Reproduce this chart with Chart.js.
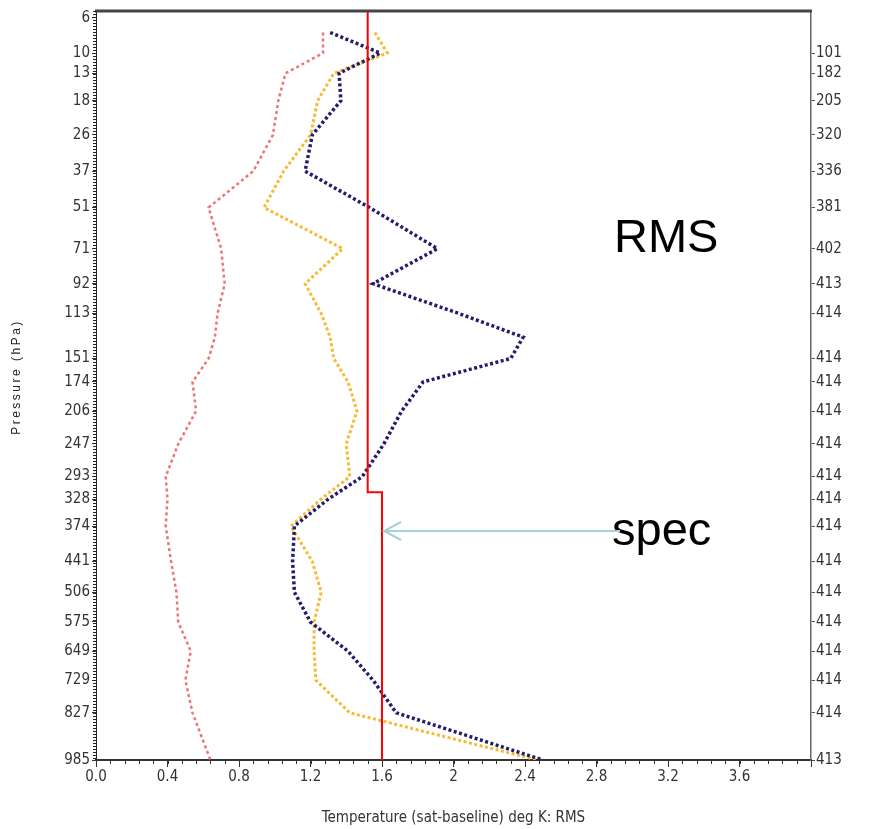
<!DOCTYPE html>
<html>
<head>
<meta charset="utf-8">
<script src="https://cdn.jsdelivr.net/npm/chart.js@4.4.0/dist/chart.umd.min.js"></script>
<style>
  html, body { margin: 0; padding: 0; background: #fff; }
  #wrap { width: 877px; height: 829px; }
</style>
</head>
<body>
<div id="wrap"><canvas id="myChart"></canvas></div>
<script>
// pressure axis is drawn in p^kappa space
var KAPPA = 0.286;
function kap(p) { return Math.pow(p, KAPPA); }

var pressureTicks = [6, 10, 13, 18, 26, 37, 51, 71, 92, 113, 151, 174, 206, 247, 293, 328, 374, 441, 506, 575, 649, 729, 827, 985];
var obsCounts = ['', 101, 182, 205, 320, 336, 381, 402, 413, 414, 414, 414, 414, 414, 414, 414, 414, 414, 414, 414, 414, 414, 414, 413];

var xTickValues = [0, 0.4, 0.8, 1.2, 1.6, 2.0, 2.4, 2.8, 3.2, 3.6, 4.0];
var xTickLabels = ['0.0', '0.4', '0.8', '1.2', '1.6', '2', '2.4', '2.8', '3.2', '3.6', ''];

var levels = [7.5, 10, 13, 18, 26, 37, 51, 71, 92, 113, 132, 151, 174, 206, 247, 293, 328, 374, 441, 506, 575, 649, 729, 827, 985];
var rmsNavy   = [1.31, 1.59, 1.36, 1.37, 1.21, 1.17, 1.53, 1.91, 1.55, 2.03, 2.39, 2.32, 1.83, 1.71, 1.61, 1.49, 1.30, 1.11, 1.10, 1.11, 1.20, 1.41, 1.55, 1.68, 2.50];
var rmsGold   = [1.56, 1.63, 1.33, 1.24, 1.20, 1.05, 0.94, 1.38, 1.17, 1.26, 1.31, 1.33, 1.41, 1.46, 1.40, 1.42, 1.26, 1.09, 1.21, 1.26, 1.22, 1.22, 1.23, 1.42, 2.47];
var rmsSalmon = [1.27, 1.27, 1.06, 1.02, 0.99, 0.88, 0.63, 0.70, 0.72, 0.68, 0.665, 0.63, 0.54, 0.56, 0.46, 0.39, 0.40, 0.39, 0.42, 0.45, 0.46, 0.53, 0.50, 0.54, 0.64];

var specLevels = [5.4, 317, 317, 985];
var specValues = [1.52, 1.52, 1.6, 1.6];

var TOP_P = 5.4, BOTTOM_P = 985;

function toPoints(vals, levs) {
  return vals.map(function (v, i) { return { x: v, y: kap(levs[i]) }; });
}

var narrow = "'Liberation Sans Narrow', 'Arial Narrow', 'DejaVu Sans Condensed', sans-serif";

// extras: top border, dotted left axis, minor x ticks, labels and the arrow
var decor = {
  id: 'decor',
  afterDraw: function (chart) {
    var ctx = chart.ctx, a = chart.chartArea;
    var xs = chart.scales.x;
    ctx.save();

    ctx.strokeStyle = '#444';
    ctx.lineWidth = 3;
    ctx.beginPath();
    ctx.moveTo(a.left - 1, a.top);
    ctx.lineTo(a.right + 1, a.top);
    ctx.stroke();

    ctx.strokeStyle = '#222';
    ctx.lineWidth = 3;
    ctx.setLineDash([1, 2]);
    ctx.beginPath();
    ctx.moveTo(a.left - 1.5, a.top);
    ctx.lineTo(a.left - 1.5, a.bottom);
    ctx.stroke();
    ctx.setLineDash([]);

    ctx.lineWidth = 1;
    ctx.strokeStyle = '#333';
    for (var v = 0; v <= 4.0001; v += 0.08) {
      var px = Math.round(xs.getPixelForValue(v)) + 0.5;
      ctx.beginPath();
      ctx.moveTo(px, a.bottom);
      ctx.lineTo(px, a.bottom + 4);
      ctx.stroke();
    }

    ctx.fillStyle = '#000';
    ctx.font = "47px 'Liberation Sans', Arial, sans-serif";
    ctx.textAlign = 'left';
    ctx.textBaseline = 'alphabetic';
    ctx.fillText('RMS', 614, 252);
    ctx.fillText('spec', 612, 545);

    // arrow pointing at the spec line
    var tipX = xs.getPixelForValue(1.6) + 2;
    var tipY = 531;
    ctx.strokeStyle = '#a6d2d6';
    ctx.lineWidth = 2;
    ctx.beginPath();
    ctx.moveTo(620, tipY);
    ctx.lineTo(tipX, tipY);
    ctx.moveTo(tipX + 17, tipY - 9);
    ctx.lineTo(tipX, tipY);
    ctx.lineTo(tipX + 17, tipY + 9);
    ctx.stroke();

    ctx.fillStyle = '#333';
    ctx.font = "15px " + narrow;
    ctx.textAlign = 'center';
    ctx.textBaseline = 'middle';
    ctx.fillText('Temperature (sat-baseline) deg K: RMS', (a.left + a.right) / 2, 818);

    ctx.translate(17, 377);
    ctx.rotate(-Math.PI / 2);
    ctx.letterSpacing = '2.5px';
    ctx.fillStyle = '#222';
    ctx.font = "12px 'Liberation Sans', Arial, sans-serif";
    ctx.fillText('Pressure (hPa)', 0, 0);
    ctx.restore();
  }
};

var tickFont = { family: narrow, size: 15 };

var ctx = document.getElementById('myChart').getContext('2d');

var myChart = new Chart(ctx, {
  type: 'line',
  data: {
    datasets: [{
      label: 'spec',
      data: toPoints(specValues, specLevels),
      borderColor: '#ff0000',
      borderWidth: 2
    },
    {
      label: 'RMS navy',
      data: toPoints(rmsNavy, levels),
      borderColor: '#241d6b',
      borderWidth: 3.5,
      borderDash: [3, 2.5]
    },
    {
      label: 'RMS gold',
      data: toPoints(rmsGold, levels),
      borderColor: '#f8b935',
      borderWidth: 3,
      borderDash: [3, 2.5]
    },
    {
      label: 'RMS salmon',
      data: toPoints(rmsSalmon, levels),
      borderColor: '#ee7474',
      borderWidth: 2.5,
      borderDash: [3, 3]
    }]
  },
  options: {
    responsive: true,
    maintainAspectRatio: false,
    animation: false,
    layout: { padding: { top: 11 } },
    elements: {
      point: { radius: 0 },
      line: { tension: 0, fill: false, borderCapStyle: 'butt' }
    },
    plugins: {
      legend: { display: false },
      tooltip: { enabled: false }
    },
    scales: {
      x: {
        type: 'linear',
        min: 0,
        max: 4,
        afterBuildTicks: function (s) {
          s.ticks = xTickValues.map(function (v) { return { value: v }; });
        },
        afterFit: function (s) { s.height = 69; },
        ticks: {
          autoSkip: false,
          maxRotation: 0,
          padding: 1,
          color: '#333',
          font: tickFont,
          callback: function (v, i) { return xTickLabels[i]; }
        },
        grid: { drawOnChartArea: false, tickLength: 7, color: '#333' },
        border: { color: '#333', width: 2 }
      },
      y: {
        type: 'linear',
        position: 'left',
        reverse: true,
        min: kap(TOP_P),
        max: kap(BOTTOM_P),
        afterBuildTicks: function (s) {
          s.ticks = pressureTicks.map(function (p) { return { value: kap(p) }; });
        },
        afterFit: function (s) { s.width = 96; },
        ticks: {
          autoSkip: false,
          padding: 2,
          color: '#333',
          font: tickFont,
          callback: function (v, i) { return pressureTicks[i]; }
        },
        grid: { drawOnChartArea: false, tickLength: 4, color: '#333' },
        border: { color: '#222', width: 1 }
      },
      y2: {
        type: 'linear',
        position: 'right',
        reverse: true,
        min: kap(TOP_P),
        max: kap(BOTTOM_P),
        afterBuildTicks: function (s) {
          s.ticks = pressureTicks.map(function (p) { return { value: kap(p) }; });
        },
        afterFit: function (s) { s.width = 66; },
        ticks: {
          autoSkip: false,
          padding: 1,
          color: '#333',
          font: tickFont,
          callback: function (v, i) { return obsCounts[i]; }
        },
        grid: {
          drawOnChartArea: false,
          tickLength: 4,
          color: '#555',
          tickColor: function (c) { return c.index === 0 ? 'rgba(0,0,0,0)' : '#555'; }
        },
        border: { color: '#666', width: 1.5 }
      }
    }
  },
  plugins: [decor]
});
</script>
</body>
</html>
